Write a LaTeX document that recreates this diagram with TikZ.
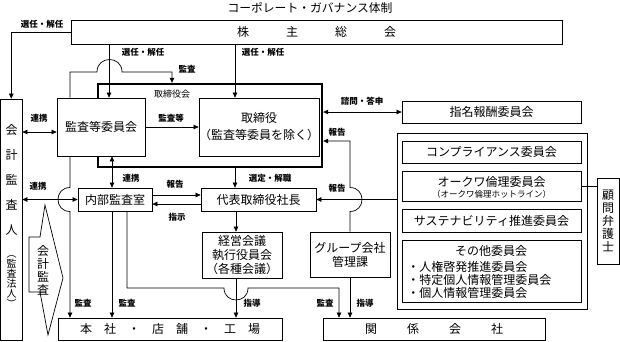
\documentclass[tikz,border=0pt]{standalone}
\usepackage{fontspec}
\setmainfont{Noto Sans CJK JP}
\usetikzlibrary{arrows.meta}
\begin{document}
\begin{tikzpicture}[x=1pt,y=-1pt,
  line width=0.7pt,
  >={Triangle[length=5pt,width=4.6pt]},
  arr/.style={->},
  darr/.style={<->},
  box/.style={draw, line width=0.8pt, fill=white, inner sep=0pt, align=center, font=\fontsize{12}{14}\selectfont},
  lbl/.style={inner sep=0pt, font=\fontsize{8.5}{10}\selectfont\bfseries},
  txt/.style={inner sep=0pt, align=center, font=\fontsize{12}{14}\selectfont}]
\useasboundingbox (0,0) rectangle (620,341);

% title
\node[txt, font=\fontsize{11.8}{14}\selectfont] (title) at (310,7.5) {コーポレート・ガバナンス体制};

% boxes
\node[box, minimum width=491pt, minimum height=24pt] (sh) at (316.5,32) {株\hspace{37pt}主\hspace{37pt}総\hspace{37pt}会};
\node[box, minimum width=21.5pt, minimum height=241.5pt] (ka) at (11.25,219.75) {};
\node[txt, font=\fontsize{12}{25}\selectfont] (kaA) at (11.5,180) {会\\計\\監\\査\\人};
\node[txt, font=\fontsize{10}{10}\selectfont] (kaB) at (11.5,282) {︵\\監\\査\\法\\人\\︶};

\node[draw, line width=2.4pt, minimum width=224pt, minimum height=83pt, inner sep=0pt] (bd) at (210,125.5) {};
\node[box, minimum width=88pt, minimum height=58pt] (kt) at (101,127) {監査等委員会};
\node[box, minimum width=114pt, minimum height=58pt] (tr) at (259,127) {取締役\\[3pt]（監査等委員を除く）};
\node[box, minimum width=74pt, minimum height=23pt] (nb) at (115,199.5) {内部監査室};
\node[box, minimum width=115pt, minimum height=23pt] (ceo) at (258.5,199.5) {代表取締役社長};
\node[box, minimum width=80pt, minimum height=46pt] (kk) at (242,255) {経営会議\\執行役員会\\（各種会議）};
\node[box, minimum width=80pt, minimum height=45pt] (gp) at (350,254.5) {グループ会社\\管理課};
\node[box, minimum width=224pt, minimum height=22pt] (hs) at (170,329) {本\hspace{12pt}社\hspace{12pt}・\hspace{12pt}店\hspace{12pt}舗\hspace{12pt}・\hspace{12pt}工\hspace{12pt}場};
\node[box, minimum width=222pt, minimum height=22pt] (kg) at (434,329) {関\hspace{30pt}係\hspace{30pt}会\hspace{30pt}社};
\node[box, minimum width=179pt, minimum height=22pt] (nm) at (491.5,112) {指名報酬委員会};
\node[box, minimum width=190pt, minimum height=176pt] (grp) at (492,221) {};
\node[box, minimum width=179pt, minimum height=22pt] (cp) at (491.5,152) {コンプライアンス委員会};
\node[box, minimum width=179pt, minimum height=30pt] (ok) at (491.5,186) {};
\node[txt] (okA) at (491.5,181.5) {オークワ倫理委員会};
\node[txt, font=\fontsize{8.5}{10}\selectfont] (okB) at (491.5,194.5) {（オークワ倫理ホットライン）};
\node[box, minimum width=179pt, minimum height=23pt] (ss) at (491.5,220.5) {サステナビリティ推進委員会};
\node[box, minimum width=179pt, minimum height=62pt] (ot) at (491.5,271) {};
\node[txt] (otA) at (491,251) {その他委員会};
\node[txt, align=left, font=\fontsize{12}{13}\selectfont, anchor=west] (otB) at (407,280) {・人権啓発推進委員会\\・特定個人情報管理委員会\\・個人情報管理委員会};
\node[box, minimum width=22pt, minimum height=86pt] (bg) at (608,221) {};
\node[txt, font=\fontsize{12}{13}\selectfont] (bgA) at (608,221) {顧\\問\\弁\\護\\士};

% 会計監査 block arrow
\draw[line width=0.7pt] (45,205) -- (63,278) -- (48,335) -- (40,292) -- (29,292) -- (29,237) -- (40,237) -- cycle;
\node[txt, font=\fontsize{12}{13}\selectfont] (kaC) at (43,270) {会\\計\\監\\査};

% helper coordinates
\coordinate (c70) at (70,0);
\coordinate (c109) at (109,0);
\coordinate (c112) at (112,0);
\coordinate (c127) at (127,0);
\coordinate (c172) at (172,0);
\coordinate (c235) at (235,0);
\coordinate (c236) at (236,0);
\coordinate (c339) at (339,0);
\coordinate (r132) at (0,132);
\coordinate (r141) at (0,141);
\coordinate (r195) at (0,195);
\coordinate (r204) at (0,204);
\coordinate (jA1) at (97,72);
\coordinate (jA2) at (122,72);
\coordinate (jB1) at (70,187.5);
\coordinate (jB2) at (70,211.5);
\coordinate (jC1) at (224,288);
\coordinate (jC2) at (248,288);
\coordinate (jD1) at (350,211.5);
\coordinate (jD2) at (350,187.5);

% connectors
\draw[arr] (sh.west) -| (ka.north);
\draw[arr] (sh.south -| c109) -- (kt.north -| c109);
\draw[arr] (sh.south -| c235) -- (tr.north -| c235);
\draw[arr] (kt.north -| c70) |- (jA1) .. controls (97,55.3) and (122,55.3) .. (jA2) -| (bd.north -| c172);
\draw[arr] (kt.east) -- (tr.west);
\draw[darr] (ka.east |- r132) -- (kt.west |- r132);
\draw[darr] (ka.east |- nb.west) -- (nb.west);
\draw[arr] (kt.south -| c70) -- (jB1) .. controls (54,187.5) and (54,211.5) .. (jB2) -- (hs.north -| c70);
\draw[darr] (kt.south -| c112) -- (nb.north -| c112);
\draw[arr] (nb.south -| c112) -- (hs.north -| c112);
\draw[arr] (nb.south -| c127) |- (jC1) .. controls (224,304) and (248,304) .. (jC2) -| (kg.north -| c339);
\draw[arr] (nb.east |- r195) -- (ceo.west |- r195);
\draw[arr] (ceo.west |- r204) -- (nb.east |- r204);
\draw[arr] (bd.south -| c235) -- (ceo.north -| c235);
\draw[arr] (ceo.south -| c236) -- (kk.north -| c236);
\draw[arr] (kk.south -| c236) -- (hs.north -| c236);
\draw[arr] (gp.south) -- (kg.north -| gp.south);
\draw[arr] (gp.north) -- (jD1) .. controls (366,211.5) and (366,187.5) .. (jD2) |- (bd.east |- r141);
\draw[arr] (grp.west |- ceo.east) -- (ceo.east);
\draw[darr] (bd.east |- nm.west) -- (nm.west);
\draw (ok.east) -- (bg.west |- ok.east);

% labels
\node[lbl] (l1) at (42,24) {選任・解任};
\node[lbl] (l2) at (143,52) {選任・解任};
\node[lbl] (l3) at (263,52) {選任・解任};
\node[lbl] (l4) at (187,69) {監査};
\node[lbl, font=\fontsize{9}{10}\selectfont] (l5) at (172,94) {取締役会};
\node[lbl] (l6) at (171,118) {監査等};
\node[lbl] (l7) at (39,118) {連携};
\node[lbl] (l8) at (38,186) {連携};
\node[lbl] (l9) at (131,178) {連携};
\node[lbl] (l10) at (175,184) {報告};
\node[lbl] (l11) at (177,217) {指示};
\node[lbl] (l12) at (270,178) {選定・解職};
\node[lbl] (l13) at (362,101) {諮問・答申};
\node[lbl] (l14) at (337,132) {報告};
\node[lbl] (l15) at (337,188) {報告};
\node[lbl] (l16) at (83,303) {監査};
\node[lbl] (l17) at (127,303) {監査};
\node[lbl] (l18) at (252,303) {指導};
\node[lbl] (l19) at (325,303) {監査};
\node[lbl] (l20) at (365,303) {指導};
\end{tikzpicture}
\end{document}
